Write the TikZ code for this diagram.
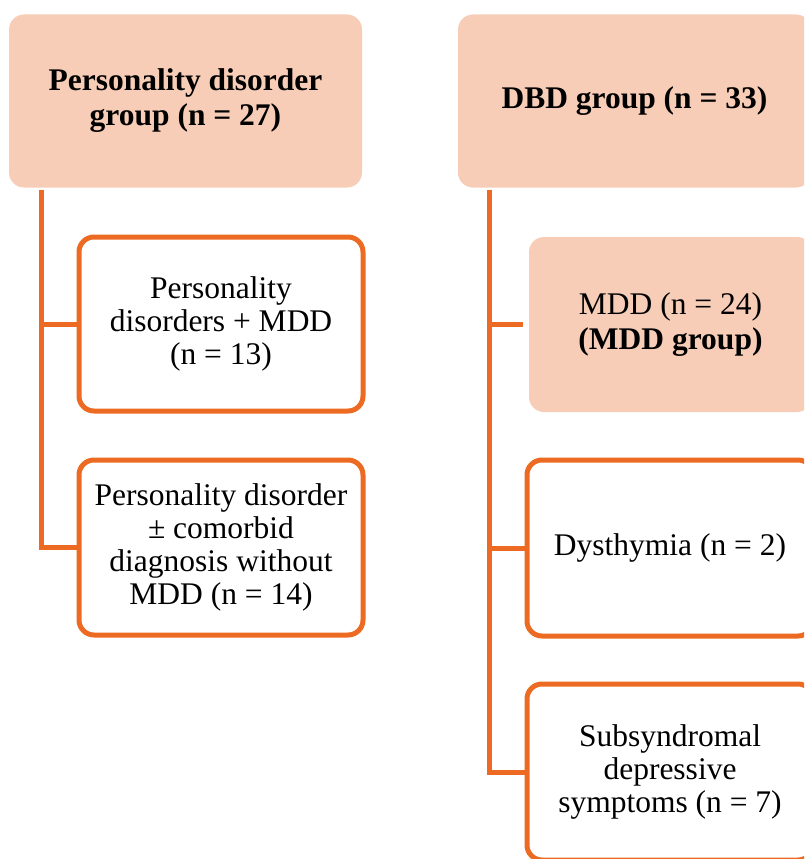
\documentclass[tikz,border=0pt]{standalone}
\usepackage{fontspec}
\setmainfont{Liberation Serif}
\definecolor{accent}{RGB}{236,106,34}
\definecolor{peach}{RGB}{248,205,183}
\begin{document}
\begin{tikzpicture}[x=1pt,y=-1pt,
  boxfont/.style={font=\fontsize{31.5}{33}\selectfont},
  headbox/.style={rectangle, rounded corners=15pt, fill=peach, align=center,
    inner sep=0pt, font=\fontsize{31.5}{35}\selectfont},
  leafbox/.style={rectangle, rounded corners=15pt, draw=accent, line width=5pt,
    fill=white, align=center, inner sep=0pt, boxfont},
  conn/.style={draw=accent, line width=5pt}]
\clip (0,0) rectangle (804,859);
\fill[white] (0,0) rectangle (804,859);

% left column
\node[headbox, minimum width=353pt, minimum height=173pt] (t1) at (185.5,101)
  {\textbf{Personality disorder}\\\textbf{group (n = 27)}};
\node[leafbox, minimum width=284pt, minimum height=174pt] (b1) at (221,324)
  {Personality\\disorders + MDD\\(n = 13)};
\node[leafbox, minimum width=284pt, minimum height=175pt] (b2) at (221,547.5)
  {Personality disorder\\± comorbid\\diagnosis without\\MDD (n = 14)};

% right column
\node[headbox, minimum width=353pt, minimum height=173pt] (t2) at (634.5,101)
  {\textbf{DBD group (n = 33)}};
\node[headbox, minimum width=283pt, minimum height=175pt] (m) at (670.5,324.5)
  {MDD (n = 24)\\\textbf{(MDD group)}};
\node[leafbox, minimum width=286pt, minimum height=176pt] (d) at (670,548)
  {Dysthymia (n = 2)};
\node[leafbox, minimum width=286pt, minimum height=176pt] (s) at (670,772)
  {Subsyndromal\\depressive\\symptoms (n = 7)};

% tree connectors
\draw[conn] ([xshift=33pt,yshift=-2pt]t1.south west) |- (b1.west);
\draw[conn] ([xshift=33pt,yshift=-2pt]t1.south west) |- (b2.west);
\draw[conn] ([xshift=32pt,yshift=-2pt]t2.south west) |- ([xshift=-6pt]m.west);
\draw[conn] ([xshift=32pt,yshift=-2pt]t2.south west) |- (d.west);
\draw[conn] ([xshift=32pt,yshift=-2pt]t2.south west) |- (s.west);
\end{tikzpicture}
\end{document}
